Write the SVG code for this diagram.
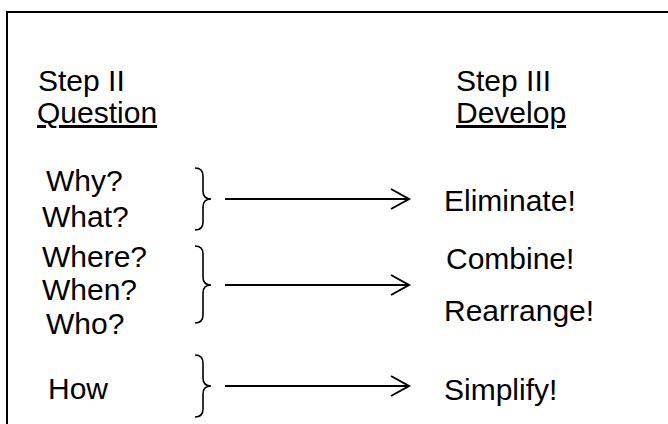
<svg xmlns="http://www.w3.org/2000/svg" width="668" height="424" viewBox="0 0 668 424">
<defs>
<style>
text{font-family:"Liberation Sans",Arial,sans-serif;font-size:30px;fill:#000}
.u{text-decoration:underline}
.brace{fill:none;stroke:#000;stroke-width:1.6}
.arrow{fill:none;stroke:#000;stroke-width:2}
</style>
<marker id="ah" markerUnits="userSpaceOnUse" markerWidth="22" markerHeight="24" refX="19" refY="11" orient="auto">
<path d="M1,1 L19,11 L1,21" fill="none" stroke="#000" stroke-width="2"/>
</marker>
</defs>
<rect width="668" height="424" fill="#fff"/>
<path d="M7,424 L7,12 L668,12" fill="none" stroke="#000" stroke-width="2"/>
<g id="step2"><text x="38" y="91">Step II</text><text class="u" x="37" y="123">Question</text></g>
<g id="step3"><text x="456" y="91">Step III</text><text class="u" x="456" y="123">Develop</text></g>
<g id="q1"><text x="46" y="191">Why?</text><text x="42" y="227">What?</text>
<path class="brace" d="M195,168 Q203,168 203,176 L203,191 Q203,199 211,199 Q203,199 203,207 L203,222 Q203,230 195,230"/></g>
<g id="q2"><text x="42" y="267">Where?</text><text x="42" y="300">When?</text><text x="46" y="334">Who?</text>
<path class="brace" d="M195,246 Q203,246 203,254 L203,277 Q203,285 211,285 Q203,285 203,293 L203,315 Q203,323 195,323"/></g>
<g id="q3"><text x="48" y="399">How</text>
<path class="brace" d="M195,355 Q203,355 203,363 L203,378 Q203,386 211,386 Q203,386 203,394 L203,409 Q203,417 195,417"/></g>
<g id="d1"><text x="444" y="211">Eliminate!</text></g>
<g id="d2"><text x="446" y="269">Combine!</text><text x="444" y="321">Rearrange!</text></g>
<g id="d3"><text x="444" y="400">Simplify!</text></g>
<g id="connectors">
<line class="arrow" x1="225" y1="199" x2="409" y2="199" marker-end="url(#ah)"/>
<line class="arrow" x1="225" y1="285" x2="409" y2="285" marker-end="url(#ah)"/>
<line class="arrow" x1="225" y1="386" x2="409" y2="386" marker-end="url(#ah)"/>
</g>
</svg>
